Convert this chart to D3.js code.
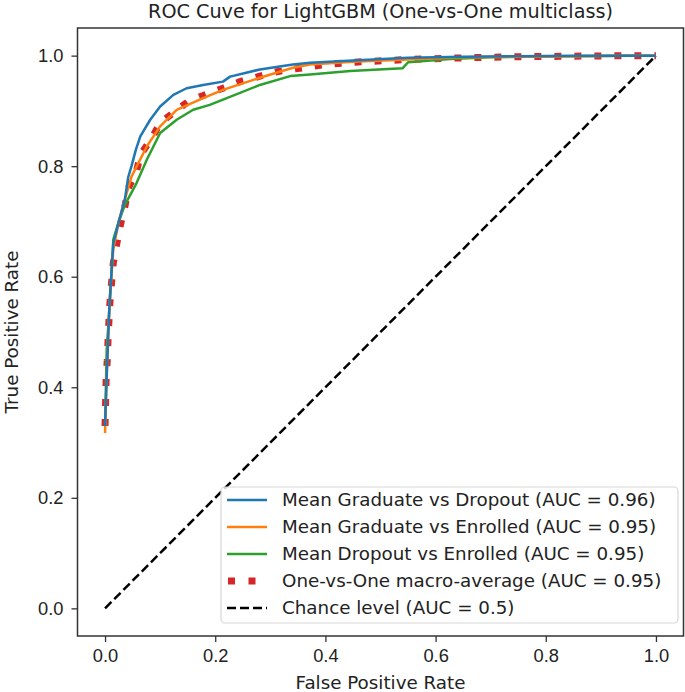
<!DOCTYPE html>
<html lang="en">
<head>
    <meta charset="UTF-8">
    <title>ROC Cuve for LightGBM</title>
    <script src="https://d3js.org/d3.v7.min.js"></script>
    <style>
        body { margin: 0; background: white; }
        svg { display: block; font-family: "DejaVu Sans", sans-serif; }
        .tick text { font-size: 18.3px; fill: #222; }
        .tick line { stroke: #333; stroke-width: 1.3; }
        .label { font-size: 18.3px; fill: #222; }
        .title { font-size: 19.2px; fill: #222; }
        .legend text { font-size: 18.3px; fill: #222; }
    </style>
</head>
<body>
    <svg width="685" height="692"></svg>
    <script>
        const title = "ROC Cuve for LightGBM (One-vs-One multiclass)";
        const ticks = [0.0, 0.2, 0.4, 0.6, 0.8, 1.0];

        const gdFpr = [0, 0.003, 0.008, 0.015, 0.025, 0.036, 0.042, 0.048, 0.056, 0.064, 0.082, 0.10, 0.124, 0.148, 0.178, 0.214, 0.227, 0.281, 0.341, 0.372, 0.45, 0.55, 0.65, 0.75, 0.85, 0.95, 1.0];
        const gdTpr = [0.33, 0.42, 0.55, 0.66, 0.70, 0.74, 0.78, 0.80, 0.83, 0.854, 0.884, 0.908, 0.929, 0.941, 0.947, 0.953, 0.962, 0.975, 0.984, 0.987, 0.991, 0.996, 0.998, 0.999, 1.0, 1.0, 1.0];

        const geFpr = [0, 0.003, 0.008, 0.015, 0.025, 0.036, 0.048, 0.076, 0.10, 0.13, 0.178, 0.214, 0.281, 0.341, 0.372, 0.45, 0.55, 0.65, 0.75, 0.85, 0.95, 1.0];
        const geTpr = [0.317, 0.42, 0.55, 0.65, 0.70, 0.74, 0.781, 0.836, 0.872, 0.902, 0.923, 0.938, 0.96, 0.978, 0.984, 0.989, 0.993, 0.997, 0.998, 0.999, 1.0, 1.0];

        const deFpr = [0, 0.003, 0.009, 0.015, 0.025, 0.036, 0.057, 0.076, 0.10, 0.13, 0.16, 0.19, 0.221, 0.281, 0.336, 0.372, 0.445, 0.54, 0.55, 0.626, 0.70, 0.85, 0.95, 1.0];
        const deTpr = [0.33, 0.467, 0.558, 0.667, 0.70, 0.73, 0.769, 0.812, 0.86, 0.884, 0.902, 0.911, 0.923, 0.947, 0.963, 0.966, 0.972, 0.977, 0.988, 0.994, 0.997, 0.999, 1.0, 1.0];

        const maFpr = [0, 0.002, 0.004, 0.006, 0.009, 0.012, 0.015, 0.021, 0.028, 0.036, 0.042, 0.057, 0.064, 0.085, 0.10, 0.127, 0.151, 0.181, 0.214, 0.245, 0.278, 0.312, 0.345, 0.40, 0.45, 0.55, 0.65, 0.75, 0.85, 0.95, 1.0];
        const maTpr = [0.33, 0.417, 0.449, 0.50, 0.555, 0.591, 0.625, 0.658, 0.694, 0.727, 0.76, 0.79, 0.82, 0.851, 0.878, 0.899, 0.917, 0.929, 0.941, 0.953, 0.962, 0.971, 0.976, 0.984, 0.988, 0.993, 0.996, 0.998, 0.999, 1.0, 1.0];

        const chanceFpr = [0, 1];
        const chanceTpr = [0, 1];

        const series = [
            { name: "Mean Graduate vs Dropout (AUC = 0.96)", fpr: gdFpr, tpr: gdTpr, color: "#1f77b4", width: 2.5, dash: null },
            { name: "Mean Graduate vs Enrolled (AUC = 0.95)", fpr: geFpr, tpr: geTpr, color: "#ff7f0e", width: 2.5, dash: null },
            { name: "Mean Dropout vs Enrolled (AUC = 0.95)", fpr: deFpr, tpr: deTpr, color: "#2ca02c", width: 2.5, dash: null },
            { name: "One-vs-One macro-average (AUC = 0.95)", fpr: maFpr, tpr: maTpr, color: "#d62728", width: 7, dash: "7 13" },
            { name: "Chance level (AUC = 0.5)", fpr: chanceFpr, tpr: chanceTpr, color: "black", width: 2.5, dash: "9 4" }
        ];

        const svg = d3.select("svg");
        const margin = { top: 28, right: 1.5, bottom: 56, left: 77.5 };
        const width = 685, height = 692;

        const x = d3.scaleLinear().domain([-0.05, 1.05]).range([margin.left, width - margin.right]);
        const y = d3.scaleLinear().domain([-0.05, 1.05]).range([height - margin.bottom, margin.top]);

        svg.append("g")
            .attr("transform", `translate(0,${height - margin.bottom})`)
            .call(d3.axisBottom(x).tickValues(ticks).tickFormat(d3.format(".1f")).tickSize(6).tickPadding(7))
            .call(g => g.select(".domain").remove());

        svg.append("g")
            .attr("transform", `translate(${margin.left},0)`)
            .call(d3.axisLeft(y).tickValues(ticks).tickFormat(d3.format(".1f")).tickSize(6).tickPadding(8))
            .call(g => g.select(".domain").remove());

        const line = d3.line().x(d => x(d[0])).y(d => y(d[1]));

        series.slice().reverse().forEach(s => {
            const pts = s.fpr.map((f, i) => [f, s.tpr[i]]);
            const p = svg.append("path")
                .datum(pts)
                .attr("d", line)
                .attr("fill", "none")
                .attr("stroke", s.color)
                .attr("stroke-width", s.width)
                .attr("stroke-linejoin", "round");
            if (s.dash) p.attr("stroke-dasharray", s.dash);
        });

        // frame
        svg.append("rect")
            .attr("x", margin.left).attr("y", margin.top)
            .attr("width", width - margin.left - margin.right)
            .attr("height", height - margin.top - margin.bottom)
            .attr("fill", "none").attr("stroke", "#333").attr("stroke-width", 1.5);

        // legend
        const lg = svg.append("g").attr("class", "legend");
        lg.append("rect")
            .attr("x", 221).attr("y", 487).attr("width", 457).attr("height", 136)
            .attr("rx", 4)
            .attr("fill", "white").attr("fill-opacity", 0.8)
            .attr("stroke", "#d8d8d8").attr("stroke-width", 1.2);
        series.forEach((s, i) => {
            const yy = 500 + i * 27;
            const l = lg.append("line")
                .attr("x1", 227).attr("x2", 267).attr("y1", yy).attr("y2", yy)
                .attr("stroke", s.color).attr("stroke-width", s.width);
            if (s.dash) l.attr("stroke-dasharray", s.dash === "7 13" ? "7 13.5" : s.dash)
                .attr("stroke-dashoffset", s.width > 5 ? -1 : 0);
            lg.append("text")
                .attr("x", 282).attr("y", yy).attr("dy", "0.35em")
                .text(s.name);
        });

        svg.append("text").attr("class", "title")
            .attr("x", (margin.left + width - margin.right) / 2).attr("y", 18)
            .attr("text-anchor", "middle").text(title);

        svg.append("text").attr("class", "label")
            .attr("x", (margin.left + width - margin.right) / 2).attr("y", 689)
            .attr("text-anchor", "middle").text("False Positive Rate");

        svg.append("text").attr("class", "label")
            .attr("transform", `translate(18,${(margin.top + height - margin.bottom) / 2}) rotate(-90)`)
            .attr("text-anchor", "middle").text("True Positive Rate");
    </script>
</body>
</html>
